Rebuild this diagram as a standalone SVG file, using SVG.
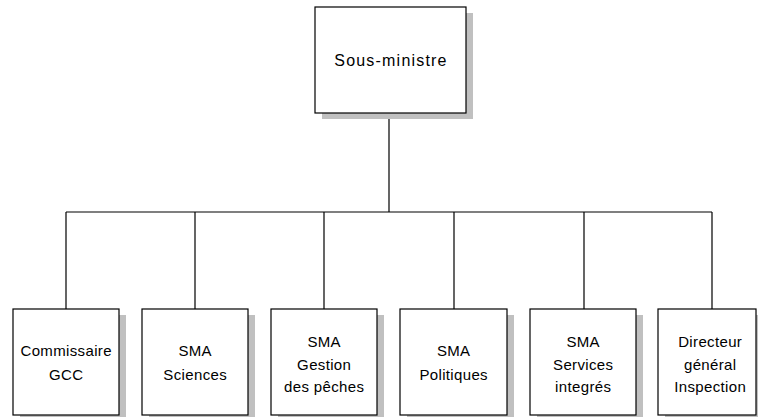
<svg xmlns="http://www.w3.org/2000/svg" width="758" height="417" viewBox="0 0 758 417">
<defs>
<style>
.box{fill:#ffffff;stroke:#000000;stroke-width:1.2}
.shadow{fill:#c0c0c0;stroke:none}
.t{font-family:"Liberation Sans",Arial,sans-serif;font-size:15px;letter-spacing:0.35px;fill:#000000;text-anchor:middle}
.top{font-size:16px;letter-spacing:1.2px}
.line{fill:none;stroke:#000000;stroke-width:1.2}
</style>
</defs>
<rect width="758" height="417" fill="#ffffff"/>
<g id="connectors">
<path class="line" d="M389 113 V212 M66 212 H712 M66 212 V309 M195 212 V309 M324 212 V309 M454 212 V309 M584 212 V309 M712 212 V309"/>
</g>
<g id="sous-ministre">
<rect class="shadow" x="322" y="13" width="151" height="106"/>
<rect class="box" x="315" y="7" width="151" height="106"/>
<text class="t top" x="391" y="66">Sous-ministre</text>
</g>
<g id="commissaire">
<rect class="shadow" x="20" y="315" width="106" height="106"/>
<rect class="box" x="13" y="309" width="106" height="106"/>
<text class="t" x="66.2" y="356">Commissaire</text>
<text class="t" x="66.2" y="380">GCC</text>
</g>
<g id="sciences">
<rect class="shadow" x="149" y="315" width="106" height="106"/>
<rect class="box" x="142" y="309" width="106" height="106"/>
<text class="t" x="195.2" y="356">SMA</text>
<text class="t" x="195.2" y="380">Sciences</text>
</g>
<g id="gestion">
<rect class="shadow" x="278" y="315" width="106" height="106"/>
<rect class="box" x="271" y="309" width="106" height="106"/>
<text class="t" x="324.2" y="347">SMA</text>
<text class="t" x="324.2" y="369.5">Gestion</text>
<text class="t" x="324.2" y="392">des pêches</text>
</g>
<g id="politiques">
<rect class="shadow" x="407" y="315" width="107" height="106"/>
<rect class="box" x="400" y="309" width="107" height="106"/>
<text class="t" x="453.7" y="356">SMA</text>
<text class="t" x="453.7" y="380">Politiques</text>
</g>
<g id="services">
<rect class="shadow" x="537" y="315" width="106" height="106"/>
<rect class="box" x="530" y="309" width="106" height="106"/>
<text class="t" x="583.2" y="347">SMA</text>
<text class="t" x="583.2" y="369.5">Services</text>
<text class="t" x="583.2" y="392">integrés</text>
</g>
<g id="directeur">
<rect class="shadow" x="665" y="315" width="98" height="106"/>
<rect class="box" x="658" y="309" width="98" height="106"/>
<text class="t" x="710.2" y="347">Directeur</text>
<text class="t" x="710.2" y="369.5">général</text>
<text class="t" x="710.2" y="392">Inspection</text>
</g>
</svg>
